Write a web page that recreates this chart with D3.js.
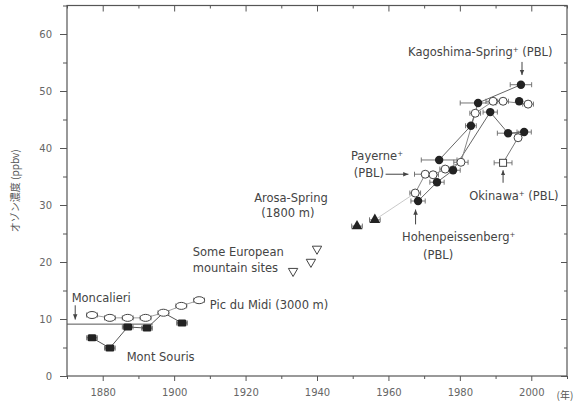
<!DOCTYPE html>
<html><head><meta charset="utf-8">
<script src="https://cdn.jsdelivr.net/npm/d3@7"></script>
<style>body{margin:0;background:#fff}svg{display:block}</style>
</head><body>
<script>
// ---------- data ----------
const xTicks = [1880, 1900, 1920, 1940, 1960, 1980, 2000];
const xMinor = [1870, 1890, 1910, 1930, 1950, 1970, 1990, 2010];
const yTicks = [0, 10, 20, 30, 40, 50, 60];
const yMinor = [5, 15, 25, 35, 45, 55, 65];

const moncalieri = [[1877,10.7],[1882,10.2],[1887,10.2],[1892,10.2],[1897,11.1],[1902,12.3],[1907,13.3]];
const moncalieriErr = [1.5,1.5,1.5,1.5,1.5,1.5,1.5];
const moncalieriMean = 9.1;
const moncalieriMeanSpan = [1870, 1894];
const montSouris = [[1877,6.7],[1882,4.9],[1887,8.6],[1892.4,8.4],[1902.2,9.3]];
const montSourisErr = [1.5,1.5,1.5,1.5,1.5];
const european = [[1933.3,18.4],[1938.3,20.0],[1940,22.3]];
const arosa = [[1951.2,26.3],[1956.2,27.4]];
const arosaErr = [1.5,1.5];
const hohen = [[1968.3,30.7],[1973.6,34.0],[1978.1,36.1],[1988.5,46.3],[1993.5,42.6],[1998,42.8]];
const hohenErr = [2,2,2,2,3,2];
const payerne = [[1967.5,32.1],[1970.3,35.4],[1972.5,35.3],[1975.9,36.3],[1980.3,37.5],[1984.3,46.1],[1989.3,48.2],[1992.1,48.2],[1999.1,47.7]];
const payerneErr = [1.5,3,1.5,1.5,2,1.5,2,1.5,1.5];
const kagoshima = [[1974.2,37.9],[1983.1,43.9],[1985.1,47.9],[1997.1,51.1]];
const kagoshimaErr = [5,1.5,5,3];
const extraFilled = [[1996.6,48.2]];
const okinawa = [[1992.1,37.4]];
const okinawaErr = [2.5];
const extraOpen = [[1996.3,41.8]];

const labels = [
  {t:"Moncalieri", x:1871.3, y:13.7},
  {t:"Mont Souris", x:1886.7, y:3.4},
  {t:"Pic du Midi (3000 m)", x:1910, y:12.4},
  {t:"Some European", x:1905.2, y:21.7},
  {t:"mountain sites", x:1905.2, y:18.9},
  {t:"Arosa-Spring", x:1922.4, y:31.2},
  {t:"(1800 m)", x:1924.4, y:28.6},
  {t:"Payerne", sup:true, x:1949.5, y:38.6},
  {t:"(PBL)", x:1950.3, y:35.6},
  {t:"Hohenpeissenberg", sup:true, x:1963.8, y:24.3},
  {t:"(PBL)", x:1969.7, y:21.3},
  {t:"Okinawa", sup:true, x:1982.6, y:31.6, tail:" (PBL)"},
  {t:"Kagoshima-Spring", sup:true, x:1965.5, y:56.8, tail:" (PBL)"},
];
// arrows: [x1,y1,x2,y2] in data units
const arrows = [
  [1872.3,12.4,1872.3,9.9],
  [1959.2,35.4,1965.6,35.4],
  [1967.6,26.6,1967.6,29.2],
  [1992.1,33.9,1992.1,36.1],
  [1997.4,55.1,1997.4,52.8],
];

// ---------- chart ----------
const W = 579, H = 405;
const x = d3.scaleLinear().domain([1870, 2010]).range([67, 567]);
const y = d3.scaleLinear().domain([0, 65]).range([376, 5.5]);
const svg = d3.select("body").append("svg").attr("width", W).attr("height", H);
const FONT = "'DejaVu Sans', 'Liberation Sans', Arial, sans-serif";
const AX = "#555";

// frame
svg.append("rect").attr("x", x(1870)).attr("y", y(65)).attr("width", x(2010)-x(1870)).attr("height", y(0)-y(65))
  .attr("fill", "none").attr("stroke", AX).attr("stroke-width", 1.2);

// axes
svg.append("g").attr("transform", `translate(0,${y(0)})`)
  .call(d3.axisBottom(x).tickValues(xTicks).tickFormat(d3.format("d")).tickSize(5).tickPadding(8));
svg.append("g").attr("transform", `translate(${x(1870)},0)`)
  .call(d3.axisLeft(y).tickValues(yTicks).tickSize(7).tickPadding(8));
svg.append("g").attr("transform", `translate(0,${y(65)})`)
  .call(d3.axisBottom(x).tickValues(xTicks).tickSize(6).tickFormat(""));
svg.append("g").attr("transform", `translate(${x(2010)},0)`)
  .call(d3.axisLeft(y).tickValues(yTicks).tickSize(6).tickFormat(""));
svg.append("g").attr("transform", `translate(0,${y(0)})`)
  .call(d3.axisBottom(x).tickValues(xMinor).tickSize(3).tickFormat(""));
svg.append("g").attr("transform", `translate(${x(1870)},0)`)
  .call(d3.axisLeft(y).tickValues(yMinor).tickSize(4).tickFormat(""));
svg.append("g").attr("transform", `translate(0,${y(65)})`)
  .call(d3.axisBottom(x).tickValues(xMinor).tickSize(3).tickFormat(""));
svg.append("g").attr("transform", `translate(${x(2010)},0)`)
  .call(d3.axisLeft(y).tickValues(yMinor).tickSize(3).tickFormat(""));
svg.selectAll(".domain").remove();
svg.selectAll(".tick line").attr("stroke", AX).attr("stroke-width", 1);
svg.selectAll(".tick text").attr("fill", "#666").attr("font-family", FONT).attr("font-size", 10);

// axis titles
svg.append("text").attr("transform", `translate(19,${y(32.5)}) rotate(-90)`).attr("text-anchor", "middle")
  .attr("font-family", "'Noto Sans CJK JP', sans-serif").attr("font-size", 10).attr("fill", "#555")
  .text("オゾン濃度 (ppbv)");
svg.append("text").attr("x", 565).attr("y", 399).attr("text-anchor", "middle")
  .attr("font-family", "'Noto Sans CJK JP', sans-serif").attr("font-size", 10).attr("fill", "#555")
  .text("(年)");

// helpers
const line = d3.line().x(d => x(d[0])).y(d => y(d[1]));
function path(data, color = "#555", w = 1) {
  svg.append("path").datum(data).attr("d", line).attr("fill", "none").attr("stroke", color).attr("stroke-width", w);
}
function errbars(data, errs) {
  const g = svg.append("g").attr("stroke", "#666").attr("stroke-width", 0.9);
  data.forEach((d, i) => {
    const e = errs[i]; if (!e) return;
    g.append("line").attr("x1", x(d[0]-e)).attr("x2", x(d[0]+e)).attr("y1", y(d[1])).attr("y2", y(d[1]));
    [d[0]-e, d[0]+e].forEach(v => g.append("line").attr("x1", x(v)).attr("x2", x(v)).attr("y1", y(d[1])-2.5).attr("y2", y(d[1])+2.5));
  });
}

// reference line Moncalieri
svg.append("line").attr("x1", x(moncalieriMeanSpan[0])).attr("x2", x(moncalieriMeanSpan[1]))
  .attr("y1", y(moncalieriMean)).attr("y2", y(moncalieriMean)).attr("stroke", "#555").attr("stroke-width", 1);

// lines
path(moncalieri, "#888", 0.8);
path([...montSouris.slice(0, 4), moncalieri[4], montSouris[4]], "#555", 1);
path([arosa[1], payerne[0]], "#bbb", 0.8);
path(hohen, "#666", 1);
path(payerne, "#888", 1);
path(kagoshima, "#666", 1);
path([okinawa[0], extraOpen[0]], "#777", 1);

// error bars
errbars(moncalieri, moncalieriErr);
errbars(montSouris, montSourisErr);
errbars(arosa, arosaErr);
errbars(hohen, hohenErr);
errbars(payerne, payerneErr);
errbars(kagoshima, kagoshimaErr);
errbars(okinawa, okinawaErr);

// markers
svg.append("g").selectAll("ellipse").data(moncalieri).join("ellipse")
  .attr("cx", d => x(d[0])).attr("cy", d => y(d[1])).attr("rx", 5.5).attr("ry", 3.5)
  .attr("fill", "#fff").attr("stroke", "#444").attr("stroke-width", 1);
svg.append("g").selectAll("rect").data(montSouris).join("rect")
  .attr("x", d => x(d[0]) - 4.5).attr("y", d => y(d[1]) - 3.5).attr("width", 9).attr("height", 7).attr("rx", 1.5)
  .attr("fill", "#222");
const tri = d3.symbol().type(d3.symbolTriangle).size(38);
svg.append("g").selectAll("path").data(european).join("path")
  .attr("d", tri).attr("transform", d => `translate(${x(d[0])},${y(d[1])}) rotate(180)`)
  .attr("fill", "#fff").attr("stroke", "#444").attr("stroke-width", 1);
svg.append("g").selectAll("path").data(arosa).join("path")
  .attr("d", d3.symbol().type(d3.symbolTriangle).size(50)).attr("transform", d => `translate(${x(d[0])},${y(d[1])})`)
  .attr("fill", "#222");
svg.append("g").selectAll("circle").data(payerne.concat(extraOpen)).join("circle")
  .attr("cx", d => x(d[0])).attr("cy", d => y(d[1])).attr("r", 4)
  .attr("fill", "#fff").attr("stroke", "#444").attr("stroke-width", 1);
svg.append("g").selectAll("circle").data(hohen.concat(kagoshima, extraFilled)).join("circle")
  .attr("cx", d => x(d[0])).attr("cy", d => y(d[1])).attr("r", 4.2).attr("fill", "#222");
svg.append("g").selectAll("rect").data(okinawa).join("rect")
  .attr("x", d => x(d[0]) - 3.5).attr("y", d => y(d[1]) - 3.5).attr("width", 7).attr("height", 7)
  .attr("fill", "#fff").attr("stroke", "#444").attr("stroke-width", 1);

// arrows
svg.append("defs").append("marker").attr("id", "ah").attr("viewBox", "0 0 8 8").attr("refX", 7).attr("refY", 4)
  .attr("markerWidth", 6).attr("markerHeight", 6).attr("orient", "auto")
  .append("path").attr("d", "M0,1 L7,4 L0,7 Z").attr("fill", "#444");
svg.append("g").selectAll("line").data(arrows).join("line")
  .attr("x1", d => x(d[0])).attr("y1", d => y(d[1])).attr("x2", d => x(d[2])).attr("y2", d => y(d[3]))
  .attr("stroke", "#444").attr("stroke-width", 1).attr("marker-end", "url(#ah)");

// labels
const lg = svg.append("g").attr("font-family", FONT).attr("font-size", 11.5).attr("fill", "#444");
labels.forEach(l => {
  const t = lg.append("text").attr("x", x(l.x)).attr("y", y(l.y) + 4).text(l.t);
  if (l.sup) t.append("tspan").attr("dy", -4).attr("font-size", 7).text("+");
  if (l.tail) t.append("tspan").attr("dy", 4).text(l.tail);
});
</script>
</body></html>
